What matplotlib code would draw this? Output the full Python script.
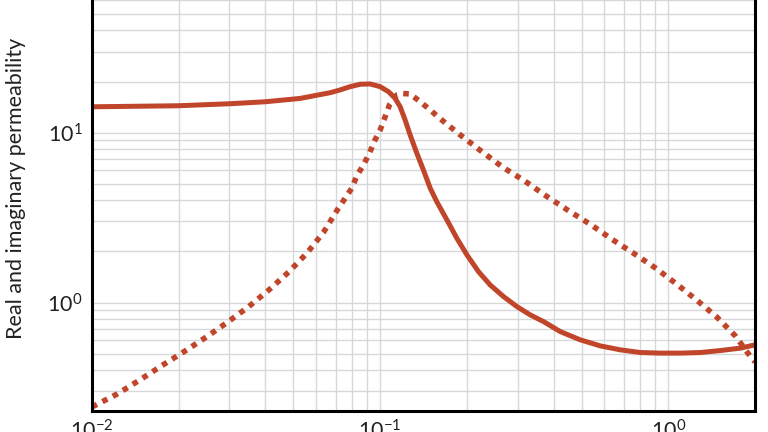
import matplotlib
matplotlib.use("Agg")
import matplotlib.pyplot as plt
import numpy as np
from matplotlib.ticker import LogLocator

plt.rcParams["font.family"] = ["Lato", "DejaVu Sans"]
plt.rcParams["mathtext.fontset"] = "custom"
plt.rcParams["mathtext.rm"] = "Lato"
plt.rcParams["mathtext.it"] = "Lato"

# real part (solid)
freq_re = [0.01, 0.0199, 0.0301, 0.0399, 0.0527, 0.0671, 0.0726, 0.0787,
           0.0852, 0.0923, 0.100, 0.1069, 0.1127, 0.1173, 0.1221, 0.1271,
           0.1341, 0.1413, 0.1492, 0.1574, 0.1704, 0.1846, 0.200, 0.2195,
           0.2409, 0.268, 0.2983, 0.3318, 0.369, 0.4217, 0.4948, 0.5806,
           0.6813, 0.7994, 0.938, 1.101, 1.292, 1.516, 1.778, 2.0]
mu_re = [14.2, 14.4, 14.8, 15.2, 15.9, 17.19, 17.84, 18.65,
         19.27, 19.35, 18.65, 17.43, 15.94, 14.22, 11.88, 9.69,
         7.56, 6.03, 4.71, 3.91, 3.07, 2.39, 1.91, 1.52,
         1.27, 1.085, 0.947, 0.846, 0.773, 0.675, 0.6035, 0.556,
         0.527, 0.508, 0.504, 0.504, 0.508, 0.522, 0.539, 0.564]

# imaginary part (dotted)
freq_im = [0.01, 0.0122, 0.01468, 0.01746, 0.0209, 0.0249, 0.0294, 0.0350,
           0.0412, 0.0481, 0.0555, 0.0635, 0.0716, 0.0756, 0.0797, 0.0830,
           0.0875, 0.0918, 0.0953, 0.100, 0.1041, 0.1077, 0.1143, 0.1202,
           0.1271, 0.1378, 0.1492, 0.1614, 0.1897, 0.224, 0.2668, 0.3162,
           0.376, 0.451, 0.536, 0.637, 0.758, 0.906, 1.072, 1.258, 1.476,
           1.708, 1.928, 2.0]
mu_im = [0.243, 0.289, 0.351, 0.425, 0.515, 0.626, 0.762, 0.947,
         1.19, 1.51, 1.94, 2.58, 3.59, 4.11, 4.71, 5.56,
         6.46, 7.56, 8.85, 10.37, 12.42, 14.55, 16.67, 17.0,
         16.89, 15.2, 13.6, 12.1, 9.69, 7.80, 6.25, 5.22,
         4.25, 3.47, 2.89, 2.36, 1.95, 1.59, 1.28, 1.03, 0.820,
         0.637, 0.481, 0.448]

line_col = "#c0452a"

fig = plt.figure(figsize=(7.68, 4.32), dpi=100)
ax = fig.add_axes([0.1198, 0.0486, 0.8633, 1.0324])

ax.plot(freq_re, mu_re, color=line_col, lw=3.6, solid_capstyle="butt",
        solid_joinstyle="round")
ax.plot(freq_im, mu_im, color=line_col, lw=4.0,
        linestyle=(0, (1.0, 1.1)), dash_capstyle="butt")

ax.set_xscale("log")
ax.set_yscale("log")
ax.set_xlim(0.01, 2.0)
ax.set_ylim(0.23, 97)

ax.xaxis.set_major_locator(LogLocator(base=10, numticks=10))
ax.xaxis.set_minor_locator(LogLocator(base=10, subs=np.arange(2, 10), numticks=10))
ax.yaxis.set_major_locator(LogLocator(base=10, numticks=10))
ax.yaxis.set_minor_locator(LogLocator(base=10, subs=np.arange(2, 10), numticks=10))

ax.grid(True, which="both", color="#d6d8db", lw=1.0)
ax.set_axisbelow(True)
ax.tick_params(which="both", length=0)
ax.tick_params(axis="y", which="major", labelsize=15.5, pad=7, colors="#222222")
ax.tick_params(axis="x", which="major", labelsize=15.5, pad=6, colors="#222222")

for s in ax.spines.values():
    s.set_linewidth(2.2)
    s.set_color("black")

ax.set_ylabel("Real and imaginary permeability", fontsize=15.5, color="#222222")
ax.yaxis.set_label_coords(-0.1, 0.5)

fig.savefig("out.png", dpi=100)
